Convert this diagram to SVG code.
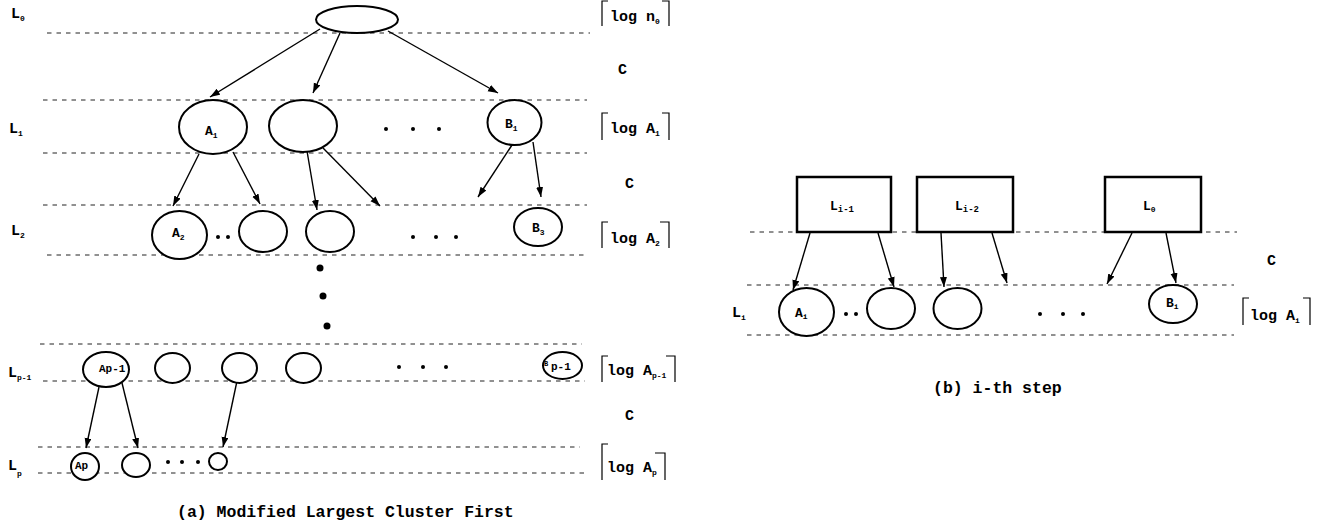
<svg xmlns="http://www.w3.org/2000/svg" width="1330" height="527" viewBox="0 0 1330 527">
  <style>
    text { font-family: "Liberation Mono", "Courier New", monospace; font-weight: bold; fill: #000; }
    .lvl { font-size: 15px; }
    .sub { font-size: 8px; }
    .sub9 { font-size: 9px; }
    .lbl { font-size: 13px; }
    .small { font-size: 11px; }
    .cap { font-size: 16.5px; }
    .log { font-size: 15px; }
    .dash { stroke: #222; stroke-width: 1; stroke-dasharray: 4.5 5; fill: none; }
    .node { fill: #fff; stroke: #000; stroke-width: 2; }
    .box { fill: #fff; stroke: #000; stroke-width: 2.5; }
    .edge { stroke: #000; stroke-width: 1.4; fill: none; marker-end: url(#arrow); }
    .brk { stroke: #000; stroke-width: 1.2; fill: none; }
    .dot { fill: #000; }
  </style>
  <defs>
    <marker id="arrow" markerUnits="userSpaceOnUse" markerWidth="11" markerHeight="8" refX="10" refY="3.5" orient="auto">
      <path d="M0,0 L10,3.5 L0,7 z" fill="#000"/>
    </marker>
  </defs>
  <rect width="1330" height="527" fill="#fff"/>

  <!-- level separators, left panel -->
  <g id="levels-a">
    <line class="dash" x1="47" y1="33" x2="590" y2="33"/>
    <line class="dash" x1="43" y1="100" x2="587" y2="100"/>
    <line class="dash" x1="43" y1="153" x2="587" y2="153"/>
    <line class="dash" x1="43" y1="205" x2="587" y2="205"/>
    <line class="dash" x1="47" y1="255" x2="588" y2="255"/>
    <line class="dash" x1="40" y1="344" x2="582" y2="344"/>
    <line class="dash" x1="43" y1="381" x2="585" y2="381"/>
    <line class="dash" x1="38" y1="447" x2="580" y2="447"/>
    <line class="dash" x1="38" y1="473" x2="585" y2="473"/>
  </g>

  <!-- level separators, right panel -->
  <g id="levels-b">
    <line class="dash" x1="750" y1="232" x2="1237" y2="232"/>
    <line class="dash" x1="747" y1="285" x2="1234" y2="285"/>
    <line class="dash" x1="747" y1="335" x2="1234" y2="335"/>
  </g>

  <!-- level names -->
  <g id="level-names">
    <text class="lvl" x="11" y="18">L<tspan class="sub" dy="3">0</tspan></text>
    <text class="lvl" x="9" y="133">L<tspan class="sub" dy="3">1</tspan></text>
    <text class="lvl" x="11" y="235">L<tspan class="sub" dy="3">2</tspan></text>
    <text class="lvl" x="8" y="377">L<tspan class="sub" dy="3">p-1</tspan></text>
    <text class="lvl" x="8" y="470">L<tspan class="sub" dy="6">p</tspan></text>
    <text class="lvl" x="732" y="317">L<tspan class="sub" dy="3">i</tspan></text>
  </g>

  <!-- cost annotations -->
  <g id="costs">
    <path class="brk" d="M608,1 H602 V26 M662,1 H669 V26"/>
    <text class="log" x="610" y="21">log n<tspan class="sub" dy="3">0</tspan></text>
    <text class="log" x="618" y="74">C</text>
    <path class="brk" d="M608,113 H602 V140 M662,113 H669 V140"/>
    <text class="log" x="610" y="133">log A<tspan class="sub" dy="3">1</tspan></text>
    <text class="log" x="625" y="188">C</text>
    <path class="brk" d="M608,222 H602 V248 M660,222 H669 V248"/>
    <text class="log" x="610" y="243">log A<tspan class="sub" dy="3">2</tspan></text>
    <path class="brk" d="M608,356 H602 V382 M666,356 H675 V382"/>
    <text class="log" x="607" y="375">log A<tspan class="sub" dy="3">p-1</tspan></text>
    <text class="log" x="625" y="420">C</text>
    <path class="brk" d="M608,444 H602 V480 M655,453 H665 V480"/>
    <text class="log" x="607" y="472">log A<tspan class="sub" dy="3">p</tspan></text>
    <text class="log" x="1267" y="265">C</text>
    <path class="brk" d="M1249,298 H1243 V325 M1303,298 H1310 V325"/>
    <text class="log" x="1250" y="320">log A<tspan class="sub" dy="3">i</tspan></text>
  </g>

  <!-- connectors -->
  <g id="connectors">
    <line class="edge" x1="320" y1="29" x2="210" y2="97"/>
    <line class="edge" x1="340" y1="33" x2="313" y2="93"/>
    <line class="edge" x1="388" y1="31" x2="498" y2="93"/>
    <line class="edge" x1="199" y1="154" x2="173" y2="206"/>
    <line class="edge" x1="233" y1="152" x2="260" y2="204"/>
    <line class="edge" x1="307" y1="151" x2="317" y2="210"/>
    <line class="edge" x1="323" y1="148" x2="380" y2="206"/>
    <line class="edge" x1="512" y1="145" x2="478" y2="197"/>
    <line class="edge" x1="533" y1="142" x2="541" y2="197"/>
    <line class="edge" x1="99" y1="387" x2="86" y2="448"/>
    <line class="edge" x1="122" y1="383" x2="138" y2="448"/>
    <line class="edge" x1="237" y1="381" x2="223" y2="447"/>
    <line class="edge" x1="810" y1="233" x2="793" y2="290"/>
    <line class="edge" x1="878" y1="233" x2="894" y2="287"/>
    <line class="edge" x1="941" y1="233" x2="944" y2="287"/>
    <line class="edge" x1="992" y1="233" x2="1007" y2="283"/>
    <line class="edge" x1="1132" y1="233" x2="1107" y2="284"/>
    <line class="edge" x1="1166" y1="233" x2="1176" y2="283"/>
  </g>

  <!-- tree nodes, left panel -->
  <g id="root"><ellipse class="node" cx="357" cy="19.5" rx="41" ry="13.5"/></g>
  <g id="a1">
    <ellipse class="node" cx="213" cy="127" rx="34" ry="27"/>
    <text class="lbl" x="205" y="135">A<tspan class="sub" dy="3">1</tspan></text>
  </g>
  <g id="n1b"><ellipse class="node" cx="303" cy="126" rx="34" ry="26"/></g>
  <g id="b1">
    <ellipse class="node" cx="514.5" cy="122.5" rx="27" ry="22.5"/>
    <text class="lbl" x="505" y="128">B<tspan class="sub" dy="3">1</tspan></text>
  </g>
  <g id="dots-l1">
    <circle class="dot" cx="386" cy="129" r="2"/>
    <circle class="dot" cx="413" cy="129" r="2"/>
    <circle class="dot" cx="439" cy="129" r="2"/>
  </g>

  <g id="a2">
    <ellipse class="node" cx="179.5" cy="235" rx="27.5" ry="24"/>
    <text class="lbl" x="172" y="237">A<tspan class="sub" dy="3">2</tspan></text>
  </g>
  <g id="dots-l2a">
    <circle class="dot" cx="218" cy="237" r="2"/>
    <circle class="dot" cx="228" cy="237" r="2"/>
  </g>
  <g id="n2b"><ellipse class="node" cx="263" cy="231.5" rx="24" ry="20.5"/></g>
  <g id="n2c"><ellipse class="node" cx="330" cy="231.5" rx="24" ry="20.5"/></g>
  <g id="dots-l2b">
    <circle class="dot" cx="413" cy="237" r="2"/>
    <circle class="dot" cx="436" cy="237" r="2"/>
    <circle class="dot" cx="456" cy="237" r="2"/>
  </g>
  <g id="b3">
    <ellipse class="node" cx="538" cy="227" rx="24" ry="19"/>
    <text class="lbl" x="532" y="232">B<tspan class="sub" dy="3">3</tspan></text>
  </g>
  <g id="vdots">
    <circle class="dot" cx="320" cy="268" r="3.5"/>
    <circle class="dot" cx="323" cy="296" r="3.5"/>
    <circle class="dot" cx="327" cy="326" r="3.5"/>
  </g>

  <g id="ap1">
    <ellipse class="node" cx="106" cy="369.5" rx="23" ry="17.5"/>
    <text class="small" x="99" y="372">Ap-1</text>
  </g>
  <g id="np1b"><ellipse class="node" cx="172.5" cy="368" rx="17.5" ry="15"/></g>
  <g id="np1c"><ellipse class="node" cx="239.5" cy="368" rx="17.5" ry="15"/></g>
  <g id="np1d"><ellipse class="node" cx="303.5" cy="368" rx="17.5" ry="15"/></g>
  <g id="dots-lp1">
    <circle class="dot" cx="399" cy="367" r="2"/>
    <circle class="dot" cx="423" cy="367" r="2"/>
    <circle class="dot" cx="446" cy="367" r="2"/>
  </g>
  <g id="bp1">
    <ellipse class="node" cx="562.5" cy="365.5" rx="19.5" ry="13.5"/>
    <text x="544" y="366" style="font-size:7px">B</text>
    <text class="small" x="551" y="370">p-1</text>
  </g>

  <g id="ap">
    <ellipse class="node" cx="85" cy="466.5" rx="14" ry="13.5"/>
    <text class="small" x="75" y="469">Ap</text>
  </g>
  <g id="npb"><ellipse class="node" cx="136" cy="465" rx="14" ry="12"/></g>
  <g id="dots-lp">
    <circle class="dot" cx="168" cy="462" r="2"/>
    <circle class="dot" cx="182" cy="462" r="2"/>
    <circle class="dot" cx="198" cy="462" r="2"/>
  </g>
  <g id="npc"><ellipse class="node" cx="218" cy="461.5" rx="9" ry="8.5"/></g>

  <!-- right panel: previous levels as blocks -->
  <g id="blk-li1">
    <rect class="box" x="797" y="177" width="94" height="55"/>
    <text class="lbl" x="830" y="210">L<tspan class="sub9" dy="2">i-1</tspan></text>
  </g>
  <g id="blk-li2">
    <rect class="box" x="917" y="177" width="96" height="55"/>
    <text class="lbl" x="955" y="210">L<tspan class="sub9" dy="2">i-2</tspan></text>
  </g>
  <g id="blk-l0">
    <rect class="box" x="1105" y="177" width="96" height="55"/>
    <text class="lbl" x="1143" y="210">L<tspan class="sub" dy="2">0</tspan></text>
  </g>

  <g id="ai">
    <ellipse class="node" cx="806.5" cy="312" rx="27.5" ry="24"/>
    <text class="lbl" x="795" y="317">A<tspan class="sub" dy="2">i</tspan></text>
  </g>
  <g id="dots-li-a">
    <circle class="dot" cx="846" cy="314" r="2"/>
    <circle class="dot" cx="856" cy="314" r="2"/>
  </g>
  <g id="nib"><ellipse class="node" cx="891" cy="308.5" rx="24" ry="20.5"/></g>
  <g id="nic"><ellipse class="node" cx="957.5" cy="308.5" rx="24" ry="20.5"/></g>
  <g id="dots-li-b">
    <circle class="dot" cx="1040" cy="314" r="2"/>
    <circle class="dot" cx="1063" cy="314" r="2"/>
    <circle class="dot" cx="1083" cy="314" r="2"/>
  </g>
  <g id="bi">
    <ellipse class="node" cx="1173" cy="304" rx="24" ry="19"/>
    <text class="lbl" x="1166" y="307">B<tspan class="sub" dy="2">i</tspan></text>
  </g>

  <!-- captions -->
  <text class="cap" x="177" y="517">(a) Modified Largest Cluster First</text>
  <text class="cap" x="933" y="393">(b) i-th step</text>
</svg>
